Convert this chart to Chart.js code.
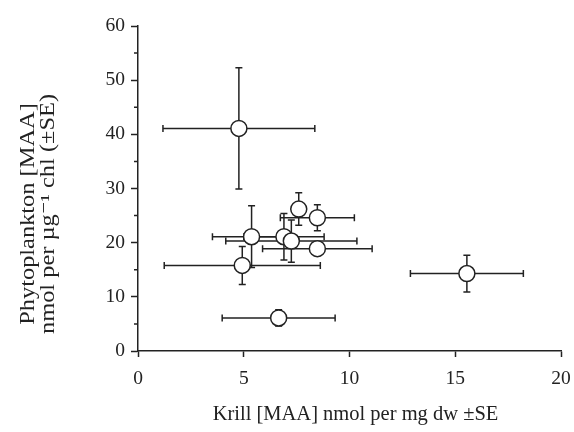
<!DOCTYPE html>
<html>
<head>
<meta charset="utf-8">
<script src="https://cdn.jsdelivr.net/npm/chart.js@4.4.1/dist/chart.umd.min.js"></script>
<style>
  html, body { margin: 0; padding: 0; background: #fff; }
  #chart-container { width: 574px; height: 432px; }
</style>
</head>
<body>
<div id="chart-container"><canvas id="maa-chart"></canvas></div>
<script>
// krill MAA (x) vs phytoplankton MAA (y), with standard errors
const krillMAA = [4.77, 7.6, 8.48, 5.37, 6.9, 7.25, 8.48, 4.93, 6.65, 15.55];
const krillSE = [3.59, 0, 1.75, 1.85, 1.9, 3.1, 2.59, 3.69, 2.67, 2.67];
const phytoMAA = [41.1, 26.2, 24.6, 21.1, 21.1, 20.3, 18.9, 15.8, 6.1, 14.3];
const phytoSE = [11.2, 3.0, 2.4, 5.7, 4.3, 3.9, 0, 3.5, 1.5, 3.4];
const xTickValues = [0, 5, 10, 15, 20];
const yTickValues = [0, 10, 20, 30, 40, 50, 60];
const yMinorTicks = [5, 15, 25, 35, 45, 55];

const xTitle = 'Krill [MAA] nmol per mg dw \u00b1SE';
const yTitleLines = ['Phytoplankton [MAA]', 'nmol per \u00b5g\u207b\u00b9 chl (\u00b1SE)'];

const ink = '#222';
const serif = '"Liberation Serif", "DejaVu Serif", serif';

const errorBars = {
    id: 'errorBars',
    beforeDatasetsDraw(chart) {
        const { ctx, scales: { x, y } } = chart;
        const cap = 3.5;
        ctx.save();
        ctx.strokeStyle = ink;
        ctx.lineWidth = 1.5;
        krillMAA.forEach((kx, i) => {
            const px = x.getPixelForValue(kx);
            const py = y.getPixelForValue(phytoMAA[i]);
            if (krillSE[i] > 0) {
                const x0 = x.getPixelForValue(kx - krillSE[i]);
                const x1 = x.getPixelForValue(kx + krillSE[i]);
                ctx.beginPath();
                ctx.moveTo(x0, py); ctx.lineTo(x1, py);
                ctx.moveTo(x0, py - cap); ctx.lineTo(x0, py + cap);
                ctx.moveTo(x1, py - cap); ctx.lineTo(x1, py + cap);
                ctx.stroke();
            }
            if (phytoSE[i] > 0) {
                const y0 = y.getPixelForValue(phytoMAA[i] - phytoSE[i]);
                const y1 = y.getPixelForValue(phytoMAA[i] + phytoSE[i]);
                ctx.beginPath();
                ctx.moveTo(px, y0); ctx.lineTo(px, y1);
                ctx.moveTo(px - cap, y0); ctx.lineTo(px + cap, y0);
                ctx.moveTo(px - cap, y1); ctx.lineTo(px + cap, y1);
                ctx.stroke();
            }
        });
        ctx.restore();
    }
};

const axisExtras = {
    id: 'axisExtras',
    afterDraw(chart) {
        const { ctx, scales: { x, y } } = chart;
        ctx.save();
        // minor ticks on the y axis
        ctx.strokeStyle = ink;
        ctx.lineWidth = 1.5;
        ctx.beginPath();
        yMinorTicks.forEach(v => {
            const py = y.getPixelForValue(v);
            ctx.moveTo(x.left - 4, py);
            ctx.lineTo(x.left, py);
        });
        ctx.stroke();

        ctx.fillStyle = ink;
        ctx.textAlign = 'center';
        ctx.textBaseline = 'middle';
        ctx.font = '20.5px ' + serif;
        ctx.fillText(xTitle, (x.left + x.right) / 2 + 6, 415);

        // y title is set a bit wider than its height in the original
        ctx.font = '20px ' + serif;
        ctx.translate(0, 214);
        ctx.rotate(-Math.PI / 2);
        ctx.scale(1.22, 1);
        ctx.fillText(yTitleLines[0], 0, 29);
        ctx.fillText(yTitleLines[1], 0, 49);
        ctx.restore();
    }
};

const ctx = document.getElementById('maa-chart').getContext('2d');

new Chart(ctx, {
    type: 'scatter',
    data: {
        datasets: [{
            label: 'MAA',
            data: krillMAA.map((kx, i) => ({ x: kx, y: phytoMAA[i] })),
            pointRadius: 8,
            pointHoverRadius: 8,
            pointBackgroundColor: '#fff',
            pointBorderColor: ink,
            pointBorderWidth: 1.5,
        }]
    },
    options: {
        responsive: true,
        maintainAspectRatio: false,
        animation: false,
        layout: {
            padding: { top: 26, right: 13, bottom: 0, left: 0 }
        },
        plugins: {
            legend: { display: false },
            tooltip: { enabled: false },
        },
        scales: {
            x: {
                type: 'linear',
                min: 0,
                max: 20,
                afterBuildTicks: (scale) => {
                    scale.ticks = xTickValues.map(v => ({ value: v }));
                },
                afterFit: (scale) => {
                    scale.height = 81;
                    scale.paddingLeft = 0;
                    scale.paddingRight = 0;
                },
                ticks: {
                    color: ink,
                    padding: 10,
                    font: { size: 19.5, family: serif },
                },
                grid: {
                    drawOnChartArea: false,
                    tickLength: 6,
                    tickColor: ink,
                    tickWidth: 1.5,
                },
                border: { display: true, color: ink, width: 1.5 },
            },
            y: {
                type: 'linear',
                min: 0,
                max: 60,
                afterBuildTicks: (scale) => {
                    scale.ticks = yTickValues.map(v => ({ value: v }));
                },
                afterFit: (scale) => {
                    scale.width = 138;
                    scale.paddingTop = 0;
                    scale.paddingBottom = 0;
                },
                ticks: {
                    color: ink,
                    padding: 6,
                    font: { size: 19.5, family: serif },
                },
                grid: {
                    drawOnChartArea: false,
                    tickLength: 7,
                    tickColor: ink,
                    tickWidth: 1.5,
                },
                border: { display: true, color: ink, width: 1.5 },
            }
        }
    },
    plugins: [errorBars, axisExtras]
});
</script>
</body>
</html>
